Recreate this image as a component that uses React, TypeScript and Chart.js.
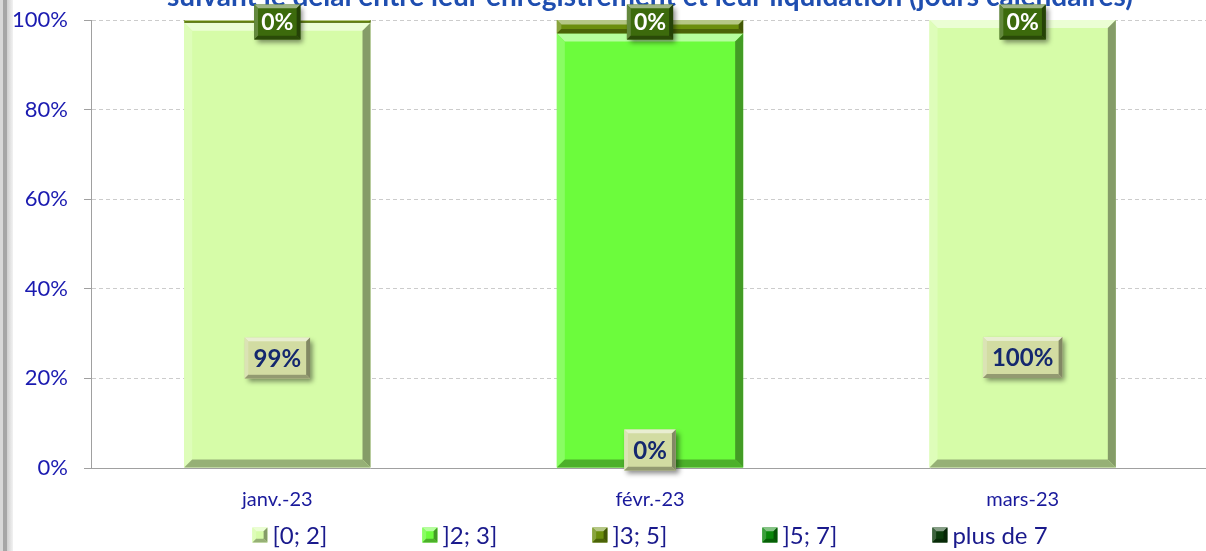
import React, { useEffect, useRef } from 'react';
import { Chart, registerables } from 'chart.js';

Chart.register(...registerables);

// ---- data ----
const titleText = 'suivant le délai entre leur enregistrement et leur liquidation (jours calendaires)';
const categories = ['janv.-23', 'févr.-23', 'mars-23'];
const seriesNames = ['[0; 2]', ']2; 3]', ']3; 5]', ']5; 7]', 'plus de 7'];
const s02 = [99.4, 0, 100];
const s23 = [0, 97, 0];
const s35 = [0.6, 3, 0];
const s57 = [0, 0, 0];
const s7plus = [0, 0, 0];
const seriesValues = [s02, s23, s35, s57, s7plus];
const yTicks = [0, 20, 40, 60, 80, 100];

const seriesColors = ['#d6fca8', '#6cfc3c', '#6b8e0c', '#0a870a', '#0c3c0c'];
const FONT = 'Lato, "Noto Sans", sans-serif';

function mix(hex: string, target: number, t: number) {
  const n = parseInt(hex.slice(1), 16);
  const r = (n >> 16) & 255, g = (n >> 8) & 255, b = n & 255;
  const f = (c: number) => Math.round(c + (target - c) * t);
  return `rgb(${f(r)},${f(g)},${f(b)})`;
}

function poly(ctx: CanvasRenderingContext2D, pts: number[][], fill: string) {
  ctx.beginPath();
  ctx.moveTo(pts[0][0], pts[0][1]);
  for (let i = 1; i < pts.length; i++) ctx.lineTo(pts[i][0], pts[i][1]);
  ctx.closePath();
  ctx.fillStyle = fill;
  ctx.fill();
}

function bevel(ctx: CanvasRenderingContext2D, x0: number, y0: number, x1: number, y1: number, b: number, base: string) {
  poly(ctx, [[x0, y0], [x1, y0], [x1 - b, y0 + b], [x0 + b, y0 + b]], mix(base, 255, 0.5));
  poly(ctx, [[x0, y0], [x0 + b, y0 + b], [x0 + b, y1 - b], [x0, y1]], mix(base, 255, 0.2));
  poly(ctx, [[x1, y0], [x1, y1], [x1 - b, y1 - b], [x1 - b, y0 + b]], mix(base, 0, 0.38));
  poly(ctx, [[x0, y1], [x1, y1], [x1 - b, y1 - b], [x0 + b, y1 - b]], mix(base, 0, 0.3));
}

function labelBox(ctx: CanvasRenderingContext2D, cx: number, cy: number, text: string, dark: boolean) {
  ctx.save();
  ctx.font = `bold ${dark ? 23 : 24}px ${FONT}`;
  const tw = ctx.measureText(text).width;
  const w = tw + (dark ? 14 : 18);
  const h = dark ? 35 : 41;
  const x0 = cx - w / 2, y0 = cy - h / 2;
  const fill = dark ? '#3c6a0c' : '#d2dca2';
  ctx.shadowColor = 'rgba(0,0,0,0.45)';
  ctx.shadowBlur = 5;
  ctx.shadowOffsetX = 3;
  ctx.shadowOffsetY = 3;
  ctx.fillStyle = fill;
  ctx.fillRect(x0, y0, w, h);
  ctx.shadowColor = 'transparent';
  bevel(ctx, x0, y0, x0 + w, y0 + h, 4, fill);
  ctx.fillStyle = fill;
  ctx.fillRect(x0 + 4, y0 + 4, w - 8, h - 8);
  ctx.fillStyle = dark ? '#ffffff' : '#14286e';
  ctx.textAlign = 'center';
  ctx.textBaseline = 'middle';
  ctx.fillText(text, cx, cy + 1);
  ctx.restore();
}

const framePlugin = {
  id: 'frame',
  beforeDraw(chart: any) {
    const ctx = chart.ctx as CanvasRenderingContext2D;
    const H = chart.height;
    ctx.save();
    ctx.fillStyle = '#ffffff';
    ctx.fillRect(0, 0, chart.width, H);
    ctx.fillStyle = '#d8d8d8';
    ctx.fillRect(0, 0, 3, H);
    ctx.fillStyle = '#a6a6a6';
    ctx.fillRect(3, 0, 4, H);
    const g = ctx.createLinearGradient(7, 0, 13, 0);
    g.addColorStop(0, '#cfcfcf');
    g.addColorStop(1, '#f2f2f2');
    ctx.fillStyle = g;
    ctx.fillRect(7, 0, 6, H);
    ctx.restore();
  },
};

const bevelPlugin = {
  id: 'barBevel',
  afterDatasetsDraw(chart: any) {
    const ctx = chart.ctx as CanvasRenderingContext2D;
    ctx.save();
    chart.data.datasets.forEach((ds: any, di: number) => {
      const meta = chart.getDatasetMeta(di);
      meta.data.forEach((el: any) => {
        const { x, y, base, width } = el.getProps(['x', 'y', 'base', 'width'], true);
        const top = Math.min(y, base), bot = Math.max(y, base);
        const h = bot - top;
        if (h < 1) return;
        const b = Math.min(8, h / 3, width / 3);
        bevel(ctx, x - width / 2, top, x + width / 2, bot, b, seriesColors[di]);
      });
    });
    // data labels
    const m0 = chart.getDatasetMeta(0);
    m0.data.forEach((el: any, i: number) => {
      const { x, y, base } = el.getProps(['x', 'y', 'base'], true);
      const h = base - y;
      const cy = base - Math.max(h * 0.246, 18);
      labelBox(ctx, x, cy, Math.round(s02[i]) + '%', false);
    });
    const mLast = chart.getDatasetMeta(seriesNames.length - 1);
    mLast.data.forEach((el: any, i: number) => {
      const { x, y } = el.getProps(['x', 'y'], true);
      labelBox(ctx, x, y + 2, Math.round(s7plus[i]) + '%', true);
    });
    ctx.restore();
  },
};

const legendPlugin = {
  id: 'customLegend',
  afterDraw(chart: any) {
    const ctx = chart.ctx as CanvasRenderingContext2D;
    const ca = chart.chartArea;
    const cx = (ca.left + ca.right) / 2;
    const y = chart.height - 16;
    const step = 170;
    const box = 15;
    const gap = 5;
    ctx.save();
    ctx.font = `24px ${FONT}`;
    const lastW = box + gap + ctx.measureText(seriesNames[seriesNames.length - 1]).width;
    const total = step * (seriesNames.length - 1) + lastW;
    let x = cx - total / 2;
    seriesNames.forEach((name, i) => {
      const col = seriesColors[i];
      const bx = x, by = y - box / 2;
      ctx.fillStyle = col;
      ctx.fillRect(bx, by, box, box);
      bevel(ctx, bx, by, bx + box, by + box, 4, col);
      ctx.fillStyle = col;
      ctx.fillRect(bx + 4, by + 4, box - 8, box - 8);
      ctx.fillStyle = '#1a1a8c';
      ctx.textAlign = 'left';
      ctx.textBaseline = 'middle';
      ctx.fillText(name, bx + box + gap, y + 1);
      x += step;
    });
    ctx.restore();
  },
};

export default function App() {
  const ref = useRef<HTMLCanvasElement>(null);
  useEffect(() => {
    const chart = new Chart(ref.current as HTMLCanvasElement, {
      type: 'bar',
      data: {
        labels: categories,
        datasets: seriesNames.map((name, i) => ({
          label: name,
          data: seriesValues[i],
          backgroundColor: seriesColors[i],
          borderWidth: 0,
          barPercentage: 0.5,
          categoryPercentage: 1,
        })),
      },
      options: {
        responsive: false,
        animation: false,
        devicePixelRatio: 1,
        layout: { padding: { left: 0, right: 3, top: 0, bottom: 19 } },
        plugins: {
          legend: { display: false },
          tooltip: { enabled: false },
          title: {
            display: true,
            fullSize: false,
            text: titleText,
            color: '#1f4eb0',
            font: { family: FONT, size: 28, weight: 'bold' },
            padding: { top: 0, bottom: 6.4 },
          },
        },
        scales: {
          x: {
            stacked: true,
            grid: { display: false, drawTicks: false },
            border: { display: true, color: '#a0a0a0', width: 1 },
            ticks: { color: '#1a1a9c', font: { family: FONT, size: 20 }, padding: 20 },
          },
          y: {
            stacked: true,
            min: 0,
            max: 100,
            afterFit: (s: any) => { s.width = 91; },
            afterBuildTicks: (s: any) => { s.ticks = yTicks.map((v) => ({ value: v })); },
            ticks: {
              color: '#1a1ab0',
              font: { family: FONT, size: 22 },
              padding: 16,
              callback: (v: any) => v + '%',
            },
            grid: { color: '#cccccc', tickColor: '#a0a0a0', tickLength: 7, tickBorderDash: [] },
            border: { display: true, color: '#a0a0a0', width: 1, dash: [4, 3] },
          },
        },
      },
      plugins: [framePlugin, bevelPlugin, legendPlugin],
    } as any);
    return () => chart.destroy();
  }, []);
  return (
    <div style={{ position: 'absolute', left: 0, top: 0, width: 1206, height: 551, overflow: 'hidden', background: '#fff' }}>
      <canvas ref={ref} width={1212} height={571} style={{ position: 'absolute', left: 0, top: -20, width: 1212, height: 571 }} />
    </div>
  );
}
